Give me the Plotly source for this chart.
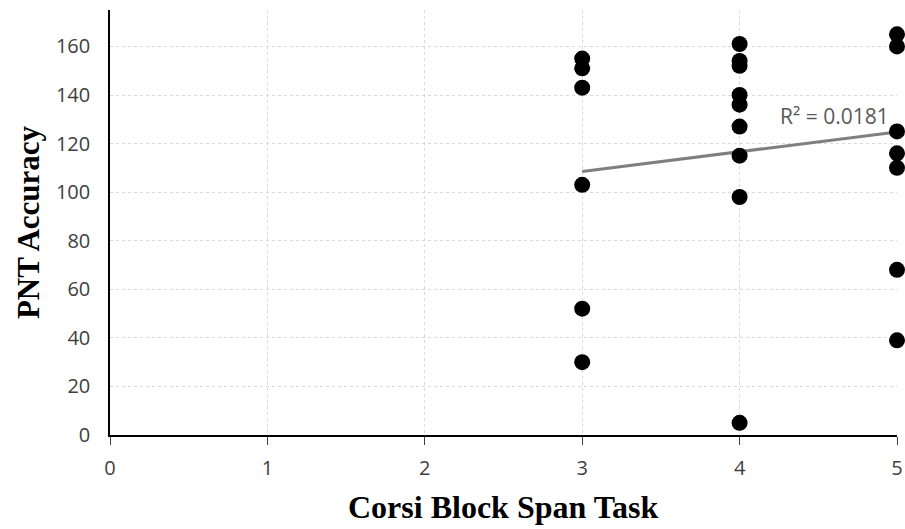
import plotly.graph_objects as go

# Data
x_span = [3, 3, 3, 3, 3, 3,
          4, 4, 4, 4, 4, 4, 4, 4, 4,
          5, 5, 5, 5, 5, 5, 5]
pnt_acc = [155, 151, 143, 103, 52, 30,
           161, 154, 152, 140, 136, 127, 115, 98, 5,
           165, 160, 125, 116, 110, 68, 39]

trend_x = [3, 5]
trend_y = [108.5, 124.8]
r2_label = "R² = 0.0181"

x_ticks = [0, 1, 2, 3, 4, 5]
y_ticks = [0, 20, 40, 60, 80, 100, 120, 140, 160]

x_title = "Corsi Block Span Task"
y_title = "PNT Accuracy"

title_font = dict(family="Liberation Serif, Times New Roman, serif",
                  size=32, color="black", weight="bold")

fig = go.Figure()
fig.add_trace(go.Scatter(x=trend_x, y=trend_y, mode="lines",
                         line=dict(color="#7f7f7f", width=3), hoverinfo="skip"))
fig.add_trace(go.Scatter(x=x_span, y=pnt_acc, mode="markers",
                         marker=dict(color="black", size=16), cliponaxis=False))

fig.add_annotation(x=4.6, y=131.5, text=r2_label, showarrow=False,
                   font=dict(family="Open Sans, sans-serif", size=21, color="#595959"))

fig.add_annotation(xref="paper", yref="paper", x=0.5, y=0, yanchor="middle",
                   yshift=-72, text=x_title, showarrow=False, font=title_font)
fig.add_annotation(xref="paper", yref="paper", x=0, y=0.501, xanchor="center",
                   xshift=-82, text=y_title, textangle=-90, showarrow=False,
                   font=dict(family="Liberation Serif, Times New Roman, serif",
                             size=31, color="black", weight="bold"))

fig.update_layout(
    width=905, height=529,
    margin=dict(l=110, r=8, t=10, b=94),
    paper_bgcolor="white", plot_bgcolor="white",
    showlegend=False,
    font=dict(family="Open Sans, sans-serif", color="#404040", size=20),
    xaxis=dict(range=[0, 5], tickvals=x_ticks, showgrid=True, automargin=False,
               gridcolor="#d9d9d9", griddash="dot", gridwidth=1,
               showline=True, linecolor="black", linewidth=1.5,
               ticks="outside", ticklen=8, tickcolor="#404040",
               ticklabelstandoff=6, zeroline=False),
    yaxis=dict(range=[0, 175], tickvals=y_ticks, showgrid=True, automargin=False,
               gridcolor="#d9d9d9", griddash="dot", gridwidth=1,
               showline=True, linecolor="black", linewidth=1.5,
               ticks="", ticklabelstandoff=14, zeroline=False),
)

fig.write_html("out.html")
